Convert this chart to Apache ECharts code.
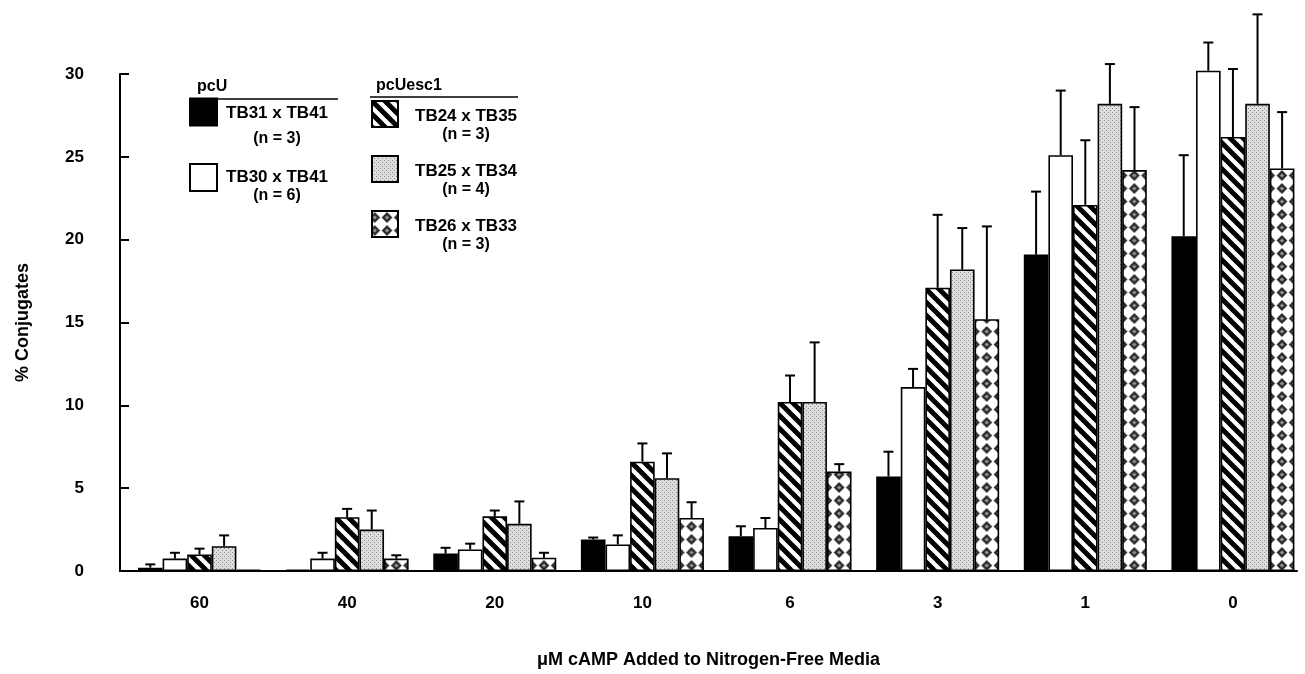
<!DOCTYPE html>
<html><head><meta charset="utf-8">
<script src="https://cdn.jsdelivr.net/npm/echarts@6/dist/echarts.min.js"></script>
<style>html,body{margin:0;padding:0;background:#fff}#c{width:1305px;height:674px}</style>
</head><body><div id="c"></div>
<script>
// ---- data ----
const categories = ['60', '40', '20', '10', '6', '3', '1', '0'];
const seriesNames = ['TB31 x TB41', 'TB30 x TB41', 'TB24 x TB35', 'TB25 x TB34', 'TB26 x TB33'];
const nLabels = ['(n = 3)', '(n = 6)', '(n = 3)', '(n = 4)', '(n = 3)'];
const tb31 = [0.2, 0.08, 1.05, 1.9, 2.1, 5.7, 19.1, 20.2];
const tb31Err = [0.2, 0, 0.35, 0.12, 0.6, 1.5, 3.8, 4.9];
const tb30 = [0.75, 0.75, 1.3, 1.6, 2.6, 11.1, 25.1, 30.2];
const tb30Err = [0.35, 0.35, 0.35, 0.55, 0.6, 1.1, 3.9, 1.7];
const tb24 = [1.0, 3.25, 3.3, 6.6, 10.2, 17.1, 22.1, 26.2];
const tb24Err = [0.35, 0.5, 0.35, 1.1, 1.6, 4.4, 3.9, 4.1];
const tb25 = [1.5, 2.5, 2.85, 5.6, 10.2, 18.2, 28.2, 28.2];
const tb25Err = [0.65, 1.15, 1.35, 1.5, 3.6, 2.5, 2.4, 5.4];
const tb26 = [0.08, 0.75, 0.8, 3.2, 6.0, 15.2, 24.2, 24.3];
const tb26Err = [0, 0.2, 0.3, 0.95, 0.45, 5.6, 3.8, 3.4];
const yTicks = [0, 5, 10, 15, 20, 25, 30];

const values = [tb31, tb30, tb24, tb25, tb26];
const errors = [tb31Err, tb30Err, tb24Err, tb25Err, tb26Err];

// ---- styles ----
const FONT = 'Liberation Sans, Arial, Helvetica, sans-serif';
const BAR_W = 24.6;
const CAP_W = 10;
const X_MIN = -0.5385, X_MAX = 7.434;

function makeCanvas(w, h) { const c = document.createElement('canvas'); c.width = w; c.height = h; return c; }

function hatchTile() {
  const T = 13, c = makeCanvas(T, T), g = c.getContext('2d');
  g.fillStyle = '#fff'; g.fillRect(0, 0, T, T);
  g.strokeStyle = '#000'; g.lineWidth = 5;
  for (let k = -1; k <= 1; k++) { g.beginPath(); g.moveTo(k * T - 2, -2); g.lineTo(k * T + T + 2, T + 2); g.stroke(); }
  return c;
}
function stippleTile() {
  const c = makeCanvas(4, 4), g = c.getContext('2d');
  g.fillStyle = '#dedede'; g.fillRect(0, 0, 4, 4);
  g.fillStyle = '#8c8c8c'; g.fillRect(0, 0, 1, 1); g.fillRect(2, 2, 1, 1);
  return c;
}
function diamondTile() {
  const W = 12, H = 13, c = makeCanvas(W, H), g = c.getContext('2d');
  g.fillStyle = '#fff'; g.fillRect(0, 0, W, H);
  g.fillStyle = '#2e2e2e';
  g.beginPath(); g.moveTo(6, 1); g.lineTo(11.3, 6.5); g.lineTo(6, 12); g.lineTo(0.7, 6.5); g.closePath(); g.fill();
  g.fillStyle = '#9a9a9a';
  g.beginPath(); g.moveTo(6, 4.5); g.lineTo(8, 6.5); g.lineTo(6, 8.5); g.lineTo(4, 6.5); g.closePath(); g.fill();
  return c;
}
const hatchImg = hatchTile(), stippleImg = stippleTile(), diamondImg = diamondTile();
function diamondPattern(x) { return { image: diamondImg, repeat: 'repeat', x: x, y: 0, scaleX: BAR_W / 2 / 12, scaleY: 1 }; }

const fills = ['#000', '#fff', { image: hatchImg, repeat: 'repeat' }, { image: stippleImg, repeat: 'repeat' }, diamondPattern(0)];

const barSeries = seriesNames.map((name, k) => ({
  name: name, type: 'bar', barWidth: BAR_W, barGap: '0%', clip: false,
  data: values[k].map((v, i) => [i, v]),
  itemStyle: { color: fills[k], borderColor: '#000', borderWidth: 1.6 },
  emphasis: { disabled: true }, z: 2
}));

const errSeries = seriesNames.map((name, k) => ({
  type: 'custom', name: 'err' + k, silent: true, z: 3, clip: false,
  encode: { x: 0, y: 1 },
  data: values[k].map((v, i) => [i, v, errors[k][i]]),
  renderItem: function (params, api) {
    const e = api.value(2);
    if (!e) return null;
    const x = api.value(0), v = api.value(1);
    const base = api.coord([x, v]), top = api.coord([x, v + e]);
    const cx = base[0] + (k - 2) * BAR_W;
    const st = { stroke: '#000', lineWidth: 2 };
    return { type: 'group', children: [
      { type: 'line', shape: { x1: cx, y1: base[1], x2: cx, y2: top[1] }, style: st },
      { type: 'line', shape: { x1: cx - CAP_W / 2, y1: top[1], x2: cx + CAP_W / 2, y2: top[1] }, style: st }
    ] };
  }
}));

function legendItem(k, left, top, d, padTop, padLeft, size) {
  return {
    data: [seriesNames[k]], left: left, top: top, padding: 0, orient: 'vertical',
    icon: 'rect', itemWidth: size, itemHeight: size, selectedMode: false,
    itemStyle: { borderColor: '#000', borderWidth: 2 },
    formatter: function (name) { return '{c| }\n{a|' + name + '}\n{b|' + nLabels[k] + '}'; },
    textStyle: {
      padding: [padTop, 0, 0, padLeft],
      rich: {
        c: { lineHeight: d, fontSize: 12 },
        a: { fontSize: 17, fontWeight: 'bold', lineHeight: d, color: '#000', fontFamily: FONT },
        b: { fontSize: 16, fontWeight: 'bold', lineHeight: d, color: '#000', fontFamily: FONT, align: 'center' }
      }
    }
  };
}

const option = {
  animation: false,
  backgroundColor: '#fff',
  textStyle: { fontFamily: FONT },
  grid: { left: 120, right: 8, top: 74, bottom: 103, containLabel: false },
  xAxis: {
    type: 'value', min: X_MIN, max: X_MAX,
    axisLine: { show: true, onZero: false, lineStyle: { color: '#000', width: 2 } },
    axisTick: { show: false }, splitLine: { show: false },
    axisLabel: { customValues: categories.map((c, i) => i), formatter: v => categories[Math.round(v)],
      margin: 24, fontSize: 17, fontWeight: 'bold', color: '#000', fontFamily: FONT },
    name: 'μM cAMP Added to Nitrogen-Free Media', nameLocation: 'middle', nameGap: 80,
    nameTextStyle: { fontSize: 18, fontWeight: 'bold', color: '#000', fontFamily: FONT }
  },
  yAxis: {
    type: 'value', min: yTicks[0], max: yTicks[yTicks.length - 1], interval: yTicks[1] - yTicks[0],
    axisLine: { show: true, onZero: false, lineStyle: { color: '#000', width: 2 } },
    axisTick: { show: true, inside: true, length: 9, lineStyle: { color: '#000', width: 2 } },
    splitLine: { show: false },
    axisLabel: { margin: 36, fontSize: 17, fontWeight: 'bold', color: '#000', fontFamily: FONT },
    name: '% Conjugates', nameLocation: 'middle', nameGap: 88, nameRotate: 90,
    nameTextStyle: { fontSize: 18, fontWeight: 'bold', color: '#000', fontFamily: FONT }
  },
  legend: [
    legendItem(0, 189, 82.5, 25, 3, 4, 27),
    legendItem(1, 189, 153.5, 18, 0, 4, 27),
    legendItem(2, 371, 91.5, 18.5, 4, 12, 26),
    legendItem(3, 371, 146.5, 18.5, 4, 12, 26),
    legendItem(4, 371, 201.5, 18.5, 4, 12, 26)
  ],
  graphic: [
    { type: 'text', left: 197, top: 79, style: { text: 'pcU', font: 'bold 16px ' + FONT, fill: '#000' } },
    { type: 'text', left: 376, top: 78, style: { text: 'pcUesc1', font: 'bold 16px ' + FONT, fill: '#000' } },
    { type: 'line', shape: { x1: 189, y1: 99, x2: 338, y2: 99 }, style: { stroke: '#000', lineWidth: 1.5 } },
    { type: 'line', shape: { x1: 370, y1: 97, x2: 518, y2: 97 }, style: { stroke: '#000', lineWidth: 1.5 } }
  ],
  series: barSeries.concat(errSeries)
};

const chart = echarts.init(document.getElementById('c'), null, { renderer: 'canvas' });
chart.setOption(option);
// align the diamond pattern so diamonds sit at bar edges and centres
const p0 = chart.convertToPixel({ xAxisIndex: 0, yAxisIndex: 0 }, [0, 0]);
const diamondLeft = p0[0] + 1.5 * BAR_W;
chart.setOption({ series: [{}, {}, {}, {}, { itemStyle: { color: diamondPattern(diamondLeft - BAR_W / 4) } }] });
</script>
</body></html>
